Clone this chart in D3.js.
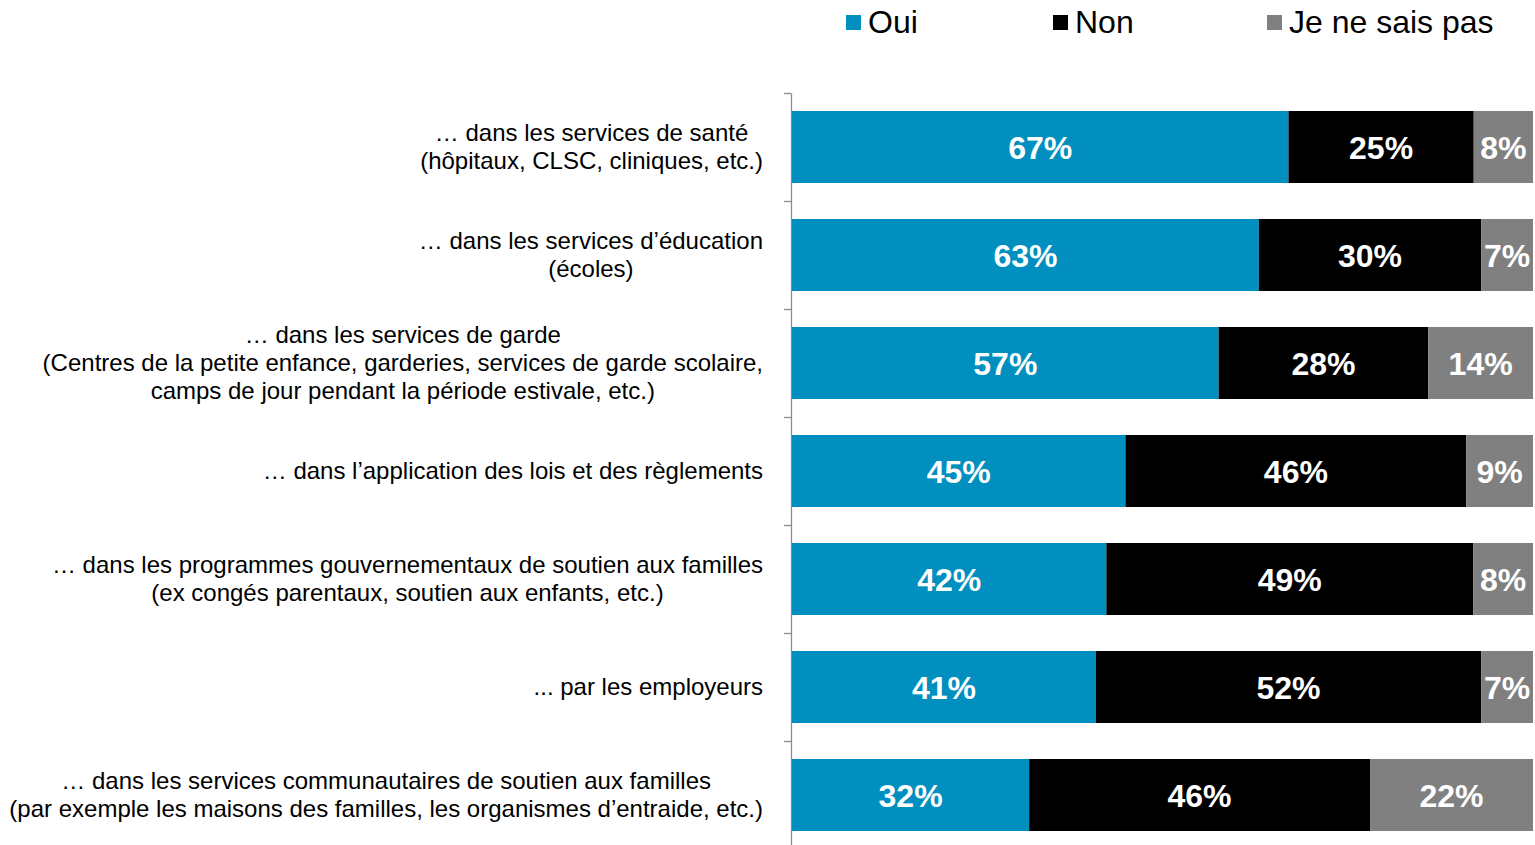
<!DOCTYPE html>
<html><head><meta charset="utf-8">
<script src="https://cdn.jsdelivr.net/npm/d3@7"></script>
<style>html,body{margin:0;padding:0;background:#fff;}svg{display:block;font-family:"Liberation Sans",Arial,sans-serif;}</style>
</head><body>
<svg id="c" width="1535" height="845"></svg>
<script>
const categories = [
  ["… dans les services de santé", "(hôpitaux, CLSC, cliniques, etc.)"],
  ["… dans les services d’éducation", "(écoles)"],
  ["… dans les services de garde", "(Centres de la petite enfance, garderies, services de garde scolaire,", "camps de jour pendant la période estivale, etc.)"],
  ["… dans l’application des lois et des règlements"],
  ["… dans les programmes gouvernementaux de soutien aux familles", "(ex congés parentaux, soutien aux enfants, etc.)"],
  ["... par les employeurs"],
  ["… dans les services communautaires de soutien aux familles", "(par exemple les maisons des familles, les organismes d’entraide, etc.)"]
];
const seriesNames = ["Oui", "Non", "Je ne sais pas"];
const oui = [67, 63, 57, 45, 42, 41, 32];
const non = [25, 30, 28, 46, 49, 52, 46];
const nsp = [8, 7, 14, 9, 8, 7, 22];
const colors = ["#008FBF", "#000000", "#808080"];

const svg = d3.select("#c");
const rows = categories.map((c, i) => ({i, Oui: oui[i], Non: non[i], "Je ne sais pas": nsp[i]}));
const stack = d3.stack().keys(seriesNames).offset(d3.stackOffsetExpand)(rows);

const x = d3.scaleLinear().domain([0, 1]).range([792, 1533]);
const y = d3.scaleBand().domain(d3.range(categories.length)).range([93, 849]).paddingInner(1/3).paddingOuter(1/6);

// axis
const yEdge = d3.scaleLinear().domain([0, categories.length]).range([93, 849]);
svg.append("g").attr("transform", "translate(791,0)")
  .call(d3.axisLeft(yEdge).tickValues(d3.range(categories.length + 1)).tickFormat("").tickSizeInner(7).tickSizeOuter(0))
  .call(g => g.selectAll("path,line").attr("stroke", "#8c8c8c").attr("stroke-width", 1.3));

// bars
const layer = svg.append("g").selectAll("g").data(stack).join("g").attr("fill", (d, k) => colors[k]);
layer.selectAll("rect").data(d => d).join("rect")
  .attr("x", d => x(d[0])).attr("width", d => x(d[1]) - x(d[0]))
  .attr("y", d => y(d.data.i)).attr("height", y.bandwidth());

const vals = [oui, non, nsp];
stack.forEach((s, k) => {
  svg.append("g").selectAll("text").data(s).join("text")
    .attr("x", d => (x(d[0]) + x(d[1])) / 2)
    .attr("y", d => y(d.data.i) + y.bandwidth() / 2 + 12)
    .attr("text-anchor", "middle").attr("fill", "#fff")
    .attr("font-weight", "bold").attr("font-size", 32)
    .text(d => vals[k][d.data.i] + "%");
});

// category labels
const lineH = 28;
categories.forEach((lines, i) => {
  const g = svg.append("g");
  const cy = y(i) + y.bandwidth() / 2;
  const t = g.selectAll("text").data(lines).join("text")
    .attr("font-size", 24).attr("fill", "#000").attr("text-anchor", "middle")
    .attr("y", (d, j) => cy + (j - (lines.length - 1) / 2) * lineH + 8)
    .text(d => d);
  let maxW = 0;
  t.each(function() { maxW = Math.max(maxW, this.getComputedTextLength()); });
  t.attr("x", 763 - maxW / 2);
});

// legend
const legX = [846, 1053, 1267];
const leg = svg.append("g").selectAll("g").data(seriesNames).join("g")
  .attr("transform", (d, k) => `translate(${legX[k]},0)`);
leg.append("rect").attr("x", 0).attr("y", 15).attr("width", 15).attr("height", 15).attr("fill", (d, k) => colors[k]);
leg.append("text").attr("x", 22).attr("y", 33).attr("font-size", 32).attr("fill", "#000").text(d => d);
</script>
</body></html>
